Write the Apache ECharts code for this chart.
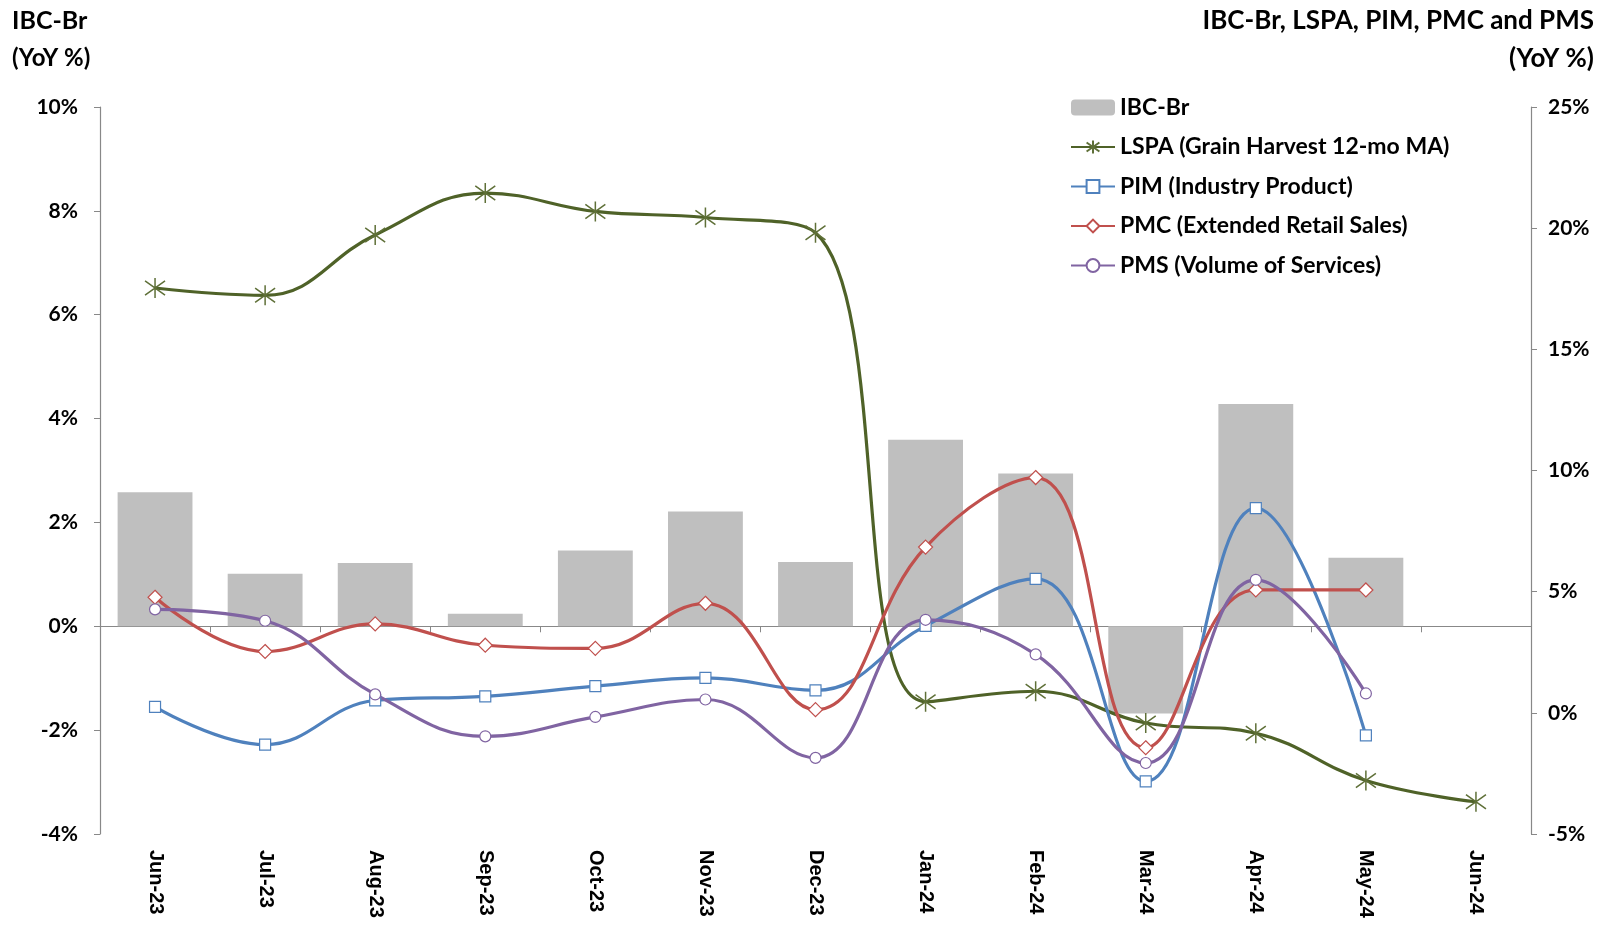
<!DOCTYPE html>
<html>
<head>
<meta charset="utf-8">
<script src="https://cdn.jsdelivr.net/npm/echarts@6/dist/echarts.min.js"></script>
<style>
html,body{margin:0;padding:0;background:#fff;}
#chart{width:1604px;height:931px;}
</style>
</head>
<body>
<div id="chart"></div>
<script>
const categories = ['Jun-23','Jul-23','Aug-23','Sep-23','Oct-23','Nov-23','Dec-23','Jan-24','Feb-24','Mar-24','Apr-24','May-24','Jun-24'];
const ibcBr = [2.58, 1.01, 1.22, 0.24, 1.46, 2.21, 1.24, 3.59, 2.94, -1.68, 4.28, 1.32, null];
const lspa = [17.53, 17.23, 19.72, 21.45, 20.69, 20.44, 19.81, 0.46, 0.89, -0.42, -0.84, -2.79, -3.67];
const pim = [0.25, -1.31, 0.51, 0.68, 1.10, 1.44, 0.93, 3.59, 5.53, -2.83, 8.45, -0.93, null];
const pmc = [4.77, 2.53, 3.67, 2.79, 2.66, 4.52, 0.13, 6.84, 9.71, -1.44, 5.07, 5.07, null];
const pms = [4.27, 3.80, 0.76, -0.97, -0.17, 0.55, -1.86, 3.84, 2.41, -2.07, 5.49, 0.80, null];
const leftTicks = {min: -4, max: 10, interval: 2};
const rightTicks = {min: -5, max: 25, interval: 5};

const FONT = 'Lato';
const chart = echarts.init(document.getElementById('chart'), null, {renderer: 'canvas'});
const axisColor = '#888888';
const lineW = 3.2;
const starPath = 'path://M10 0L10 20M2.9 2.9L17.1 17.1M2.9 17.1L17.1 2.9';

function lineSeries(name, data, color, symbol, size) {
  return {
    name: name, type: 'line', xAxisIndex: 0, yAxisIndex: 1, data: data,
    smooth: 0.42, connectNulls: false, z: 3,
    symbol: symbol, symbolSize: size, showSymbol: true,
    lineStyle: {color: color, width: lineW},
    itemStyle: {color: '#ffffff', borderColor: color, borderWidth: 1.2},
    emphasis: {disabled: true}
  };
}

const option = {
  animation: false,
  backgroundColor: '#ffffff',
  grid: {left: 100, right: 73, top: 107, bottom: 97, containLabel: false},
  legend: {
    orient: 'vertical', left: 1065, top: 91, itemGap: 16.5,
    itemWidth: 44, itemHeight: 16,
    textStyle: {fontFamily: FONT, fontWeight: 'bold', fontSize: 23, color: '#000'},
    data: ['IBC-Br', 'LSPA (Grain Harvest 12-mo MA)', 'PIM (Industry Product)', 'PMC (Extended Retail Sales)', 'PMS (Volume of Services)']
  },
  graphic: [
    {type: 'text', left: 12, top: 8, style: {text: 'IBC-Br', font: 'bold 25px Lato', fill: '#000'}},
    {type: 'text', left: 12, top: 46, style: {text: '(YoY %)', font: 'bold 24px Lato', fill: '#000'}},
    {type: 'text', right: 10, top: 8, style: {text: 'IBC-Br, LSPA, PIM, PMC and PMS', font: 'bold 26px Lato', fill: '#000'}},
    {type: 'text', right: 10, top: 46, style: {text: '(YoY %)', font: 'bold 26px Lato', fill: '#000'}}
  ],
  xAxis: [
    {
      type: 'category', data: categories, boundaryGap: true,
      axisLine: {show: true, onZero: true, onZeroAxisIndex: 0, lineStyle: {color: axisColor, width: 1.2}},
      axisTick: {show: true, length: 6, alignWithLabel: false, lineStyle: {color: axisColor}},
      axisLabel: {show: false}, splitLine: {show: false}
    },
    {
      type: 'category', data: categories, boundaryGap: true, position: 'bottom',
      axisLine: {show: false, onZero: false}, axisTick: {show: false}, splitLine: {show: false},
      axisLabel: {show: true, rotate: -90, margin: 16, fontFamily: 'Liberation Sans', fontWeight: 'bold', fontSize: 20, color: '#000'}
    }
  ],
  yAxis: [
    {
      type: 'value', min: leftTicks.min, max: leftTicks.max, interval: leftTicks.interval, position: 'left',
      axisLine: {show: true, lineStyle: {color: axisColor, width: 1.2}},
      axisTick: {show: true, length: 6, lineStyle: {color: axisColor}},
      splitLine: {show: false},
      axisLabel: {formatter: '{value}%', margin: 22, fontFamily: FONT, fontWeight: 'bold', fontSize: 21, color: '#000'}
    },
    {
      type: 'value', min: rightTicks.min, max: rightTicks.max, interval: rightTicks.interval, position: 'right',
      axisLine: {show: true, lineStyle: {color: axisColor, width: 1.2}},
      axisTick: {show: true, length: 6, lineStyle: {color: axisColor}},
      splitLine: {show: false},
      axisLabel: {formatter: '{value}%', margin: 17, fontFamily: FONT, fontWeight: 'bold', fontSize: 21, color: '#000'}
    }
  ],
  series: [
    {
      name: 'IBC-Br', type: 'bar', xAxisIndex: 0, yAxisIndex: 0, data: ibcBr,
      barWidth: '68%', itemStyle: {color: '#bfbfbf'}, z: 1, emphasis: {disabled: true}
    },
    Object.assign(lineSeries('LSPA (Grain Harvest 12-mo MA)', lspa, '#4f6228', starPath, 20), {
      itemStyle: {color: 'none', borderColor: '#5f7038', borderWidth: 1.5}
    }),
    lineSeries('PIM (Industry Product)', pim, '#4f81bd', 'rect', 11),
    lineSeries('PMC (Extended Retail Sales)', pmc, '#c0504d', 'diamond', 14),
    lineSeries('PMS (Volume of Services)', pms, '#8064a2', 'circle', 11)
  ]
};
chart.setOption(option);
</script>
</body>
</html>
